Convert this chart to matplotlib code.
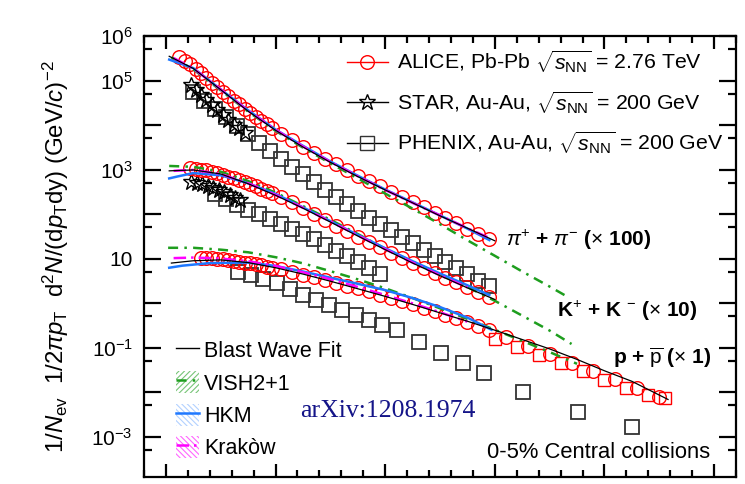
import matplotlib
matplotlib.use("Agg")
import matplotlib.pyplot as plt
from matplotlib.patches import Patch
from matplotlib.lines import Line2D
from matplotlib.ticker import FixedLocator, NullFormatter

plt.rcParams['font.family'] = ['Liberation Sans', 'DejaVu Sans']
plt.rcParams['mathtext.fontset'] = 'custom'
plt.rcParams['mathtext.rm'] = 'Liberation Sans'
plt.rcParams['mathtext.it'] = 'Liberation Sans:italic'
plt.rcParams['mathtext.bf'] = 'Liberation Sans:bold'
plt.rcParams['hatch.linewidth'] = 0.8

# ---------------- data ----------------
# ALICE Pb-Pb 2.76 TeV, 0-5%
pi_alice_pt = [0.12, 0.17, 0.22, 0.27, 0.32, 0.37, 0.42, 0.47, 0.52, 0.57, 0.62, 0.67, 0.72, 0.77,
               0.82, 0.87, 0.92, 0.97, 1.05, 1.15, 1.25, 1.35, 1.45, 1.55, 1.65, 1.75, 1.85, 1.95,
               2.05, 2.15, 2.25, 2.35, 2.45, 2.55, 2.65, 2.75, 2.85, 2.95]
pi_alice_y = [3.4e5, 2.8e5, 2.3e5, 1.8e5, 1.45e5, 1.15e5, 8.9e4, 7.1e4, 5.6e4, 4.5e4, 3.5e4, 2.9e4,
              2.3e4, 1.9e4, 1.55e4, 1.26e4, 1.05e4, 8.7e3, 6.3e3, 4.5e3, 3.2e3, 2.3e3, 1.7e3, 1.3e3,
              950, 720, 550, 420, 320, 245, 186, 141, 107, 81, 62, 47, 36, 28]
k_alice_pt = [0.22, 0.27, 0.32, 0.37, 0.42, 0.47, 0.52, 0.57, 0.62, 0.67, 0.72, 0.77, 0.82, 0.87,
              0.92, 0.97, 1.05, 1.15, 1.25, 1.35, 1.45, 1.55, 1.65, 1.75, 1.85, 1.95, 2.05, 2.15,
              2.25, 2.35, 2.45, 2.55, 2.65, 2.75, 2.85, 2.95]
k_alice_y = [1070, 1047, 1000, 955, 891, 832, 759, 692, 631, 575, 525, 468, 417, 372, 331, 295,
             240, 182, 135, 100, 74, 55, 41, 31, 23.4, 17.8, 13.5, 10.2, 7.9, 6.2, 4.8, 3.7, 2.9,
             2.24, 1.74, 1.38]
p_alice_pt = [0.32, 0.37, 0.42, 0.47, 0.52, 0.57, 0.62, 0.67, 0.72, 0.77, 0.82, 0.87, 0.92, 0.97,
              1.05, 1.15, 1.25, 1.35, 1.45, 1.55, 1.65, 1.75, 1.85, 1.95, 2.05, 2.15, 2.25, 2.35,
              2.45, 2.55, 2.65, 2.75, 2.85, 2.95, 3.1, 3.3, 3.5, 3.7, 3.9, 4.1, 4.3, 4.5]
p_alice_y = [10.2, 10.2, 10.2, 10.0, 9.8, 9.3, 8.9, 8.5, 8.1, 7.8, 7.4, 7.1, 6.6, 6.2,
             5.75, 5.0, 4.37, 3.8, 3.31, 2.88, 2.45, 2.14, 1.82, 1.55, 1.32, 1.12, 0.95, 0.79,
             0.66, 0.55, 0.46, 0.38, 0.31, 0.25, 0.174, 0.107, 0.071, 0.046, 0.030, 0.020,
             0.0126, 0.0079]
p_alice_hi_pt = [3.0, 3.2, 3.4, 3.6, 3.8, 4.0, 4.2, 4.4, 4.55]
p_alice_hi_y = [0.158, 0.105, 0.069, 0.044, 0.030, 0.019, 0.0126, 0.0085, 0.0072]

# STAR Au-Au 200 GeV
pi_star_pt = [0.23, 0.27, 0.32, 0.37, 0.42, 0.47, 0.52, 0.57, 0.62, 0.67, 0.72]
pi_star_y = [7.9e4, 6.2e4, 4.7e4, 3.6e4, 2.8e4, 2.2e4, 1.66e4, 1.29e4, 1.0e4, 8.5e3, 6.6e3]
k_star_pt = [0.23, 0.28, 0.33, 0.38, 0.43, 0.48, 0.53, 0.58, 0.63, 0.68]
k_star_y = [537, 501, 468, 427, 389, 347, 309, 269, 234, 204]

# PHENIX Au-Au 200 GeV
pi_phenix_pt = [0.25, 0.35, 0.45, 0.55, 0.65, 0.75, 0.85, 0.95, 1.05, 1.15, 1.25, 1.35, 1.45, 1.55,
                1.65, 1.75, 1.85, 1.95, 2.05, 2.15, 2.25, 2.35, 2.45, 2.55, 2.65, 2.75, 2.85, 2.95]
pi_phenix_y = [5.5e4, 3.55e4, 2.29e4, 1.48e4, 9.5e3, 6.2e3, 4.0e3, 2.63e3, 1.74e3, 1.15e3, 776,
               525, 355, 245, 170, 117, 83, 59, 42.7, 30.9, 22.4, 15.8, 11.5, 8.3, 6.0, 4.5, 3.2, 2.4]
k_phenix_pt = [0.45, 0.55, 0.65, 0.75, 0.85, 0.95, 1.05, 1.15, 1.25, 1.35, 1.45, 1.55, 1.65, 1.75,
               1.85, 1.95]
k_phenix_y = [288, 214, 158, 123, 98, 76, 59, 46, 35.5, 26.9, 20.0, 15.1, 11.2, 8.3, 6.0, 4.4]
p_phenix_pt = [0.66, 0.78, 0.89, 1.01, 1.13, 1.25, 1.37, 1.49, 1.61, 1.73, 1.85, 1.97, 2.11,
               2.31, 2.51, 2.71, 2.90, 3.26, 3.76, 4.25]
p_phenix_y = [5.0, 4.27, 3.55, 2.75, 2.04, 1.55, 1.17, 0.91, 0.69, 0.54, 0.42, 0.32, 0.25,
              0.132, 0.076, 0.045, 0.027, 0.010, 0.0035, 0.0016]

# Blast-wave fit
bw_pi_pt = [0.03, 0.25, 0.5, 0.75, 1.0, 1.25, 1.5, 1.75, 2.0, 2.25, 2.5, 2.75, 3.0]
bw_pi_y = [3.5e5, 1.86e5, 6.2e4, 2.04e4, 7.6e3, 3.2e3, 1.45e3, 692, 347, 178, 91, 48, 25]
bw_k_pt = [0.03, 0.25, 0.5, 0.75, 1.0, 1.25, 1.5, 1.75, 2.0, 2.25, 2.5, 2.75, 3.0]
bw_k_y = [933, 977, 794, 479, 263, 135, 66, 32, 15.8, 7.9, 4.1, 2.19, 1.20]
bw_p_pt = [0.05, 0.25, 0.5, 0.75, 1.0, 1.25, 1.5, 1.75, 2.0, 2.25, 2.5, 2.75, 3.0, 3.25, 3.5,
           3.75, 4.0, 4.25, 4.58]
bw_p_y = [7.9, 8.9, 9.3, 8.1, 6.2, 4.47, 3.09, 2.09, 1.41, 0.93, 0.60, 0.39, 0.245, 0.151,
          0.093, 0.054, 0.030, 0.0174, 0.0068]

# VISH2+1
vish_pi_pt = [0.05, 0.25, 0.5, 0.75, 1.0, 1.25, 1.5, 1.75, 2.0, 2.25, 2.5, 2.75, 3.0, 3.25, 3.5, 3.67]
vish_pi_y = [3.3e5, 1.78e5, 6.0e4, 2.0e4, 7.4e3, 3.1e3, 1.38e3, 631, 288, 132, 59, 25.7, 11.5,
             5.1, 2.34, 1.35]
vish_k_pt = [0.03, 0.25, 0.5, 0.75, 1.0, 1.25, 1.5, 1.75, 2.0, 2.25, 2.5, 2.75, 3.0, 3.25, 3.5, 3.7]
vish_k_y = [1202, 1148, 891, 550, 302, 151, 74, 35.5, 16.6, 8.5, 4.4, 2.29, 1.12, 0.52, 0.24, 0.12]
vish_p_pt = [0.02, 0.25, 0.5, 0.75, 1.0, 1.25, 1.5, 1.75, 2.0, 2.25, 2.5, 2.75, 3.0, 3.25, 3.5, 3.75]
vish_p_y = [17.4, 17.4, 15.8, 13.8, 10.7, 7.8, 5.2, 3.4, 2.14, 1.29, 0.76, 0.44, 0.25, 0.141,
            0.079, 0.043]

# HKM
hkm_pi_pt = [0.03, 0.25, 0.5, 0.75, 1.0, 1.25, 1.5, 1.75, 2.0, 2.25, 2.5, 2.75, 2.95]
hkm_pi_y = [2.95e5, 1.9e5, 6.3e4, 2.14e4, 7.9e3, 3.4e3, 1.51e3, 724, 355, 182, 93, 47, 26]
hkm_k_pt = [0.03, 0.1, 0.25, 0.5, 0.75, 1.0, 1.25, 1.5, 1.75, 2.0, 2.25, 2.5, 2.75, 2.95]
hkm_k_y = [631, 692, 832, 741, 490, 282, 141, 69, 34, 17, 8.7, 4.6, 2.5, 1.51]
hkm_p_pt = [0.03, 0.15, 0.4, 0.75, 1.0, 1.25, 1.5, 1.75, 2.0, 2.25, 2.5, 2.75, 2.97]
hkm_p_y = [6.2, 6.9, 7.9, 8.1, 6.8, 5.1, 3.7, 2.7, 1.95, 1.29, 0.81, 0.47, 0.25]

# Krakow
krk_pi_pt = [0.07, 0.25, 0.5, 0.75, 1.0, 1.25, 1.5, 1.75, 2.0, 2.25, 2.5, 2.75, 2.95]
krk_pi_y = [3.2e5, 1.86e5, 6.3e4, 2.09e4, 7.8e3, 3.3e3, 1.48e3, 708, 347, 178, 93, 48, 29]
krk_k_pt = [0.07, 0.25, 0.5, 0.75, 1.0, 1.25, 1.5, 1.75, 2.0, 2.25, 2.5, 2.75]
krk_k_y = [933, 977, 794, 490, 269, 138, 68, 33, 16.2, 8.1, 4.2, 2.24]
krk_p_pt = [0.07, 0.25, 0.5, 0.75, 1.0, 1.25, 1.5, 1.75, 2.0, 2.25, 2.5, 2.75]
krk_p_y = [10.2, 10.5, 10.0, 8.7, 6.8, 4.9, 3.4, 2.29, 1.51, 0.98, 0.62, 0.38]

ytick_vals = [1e6, 1e5, 1e3, 1e1, 1e-1, 1e-3]
ytick_labels = [r'$10^{6}$', r'$10^{5}$', r'$10^{3}$', '10', r'$10^{-1}$', r'$10^{-3}$']

# ---------------- figure ----------------
W, H = 745, 484
fig = plt.figure(figsize=(W / 100, H / 100), dpi=100)
ax = fig.add_axes([144 / W, 1 - 477 / H, (736 - 144) / W, (477 - 36) / H])
ax.set_yscale('log')
ax.set_xlim(-0.2, 5.2)
ax.set_ylim(10 ** -3.91, 1e6)

RED = '#ff0000'
GREEN = '#1e9e1e'
BLUE = '#1e78ff'
MAG = '#ff00ff'

ms = 9.8
# PHENIX squares
for xs, ys in [(pi_phenix_pt, pi_phenix_y), (k_phenix_pt, k_phenix_y), (p_phenix_pt, p_phenix_y)]:
    ax.plot(xs, ys, ls='none', marker='s', ms=ms, mfc='none', mec='#333333', mew=1.3, zorder=3)
# STAR stars
for xs, ys in [(pi_star_pt, pi_star_y), (k_star_pt, k_star_y)]:
    ax.plot(xs, ys, ls='none', marker='*', ms=12, mfc='none', mec='black', mew=1.0, zorder=4)
# ALICE
for xs, ys in [(pi_alice_pt, pi_alice_y), (k_alice_pt, k_alice_y), (p_alice_pt, p_alice_y)]:
    ax.plot(xs, ys, ls='none', marker='o', ms=ms, mfc='none', mec=RED, mew=1.0, zorder=5)
ax.plot(p_alice_hi_pt, p_alice_hi_y, ls='none', marker='s', ms=8, mfc='none', mec=RED, mew=1.0,
        zorder=5)

vish_ls = (0, (4, 2.5, 1, 2.5))
krk_ls = (0, (5, 2, 1, 2))
for xs, ys in [(vish_pi_pt, vish_pi_y), (vish_k_pt, vish_k_y), (vish_p_pt, vish_p_y)]:
    ax.plot(xs, ys, color=GREEN, lw=1.8, ls=vish_ls, zorder=6)
for xs, ys in [(hkm_pi_pt, hkm_pi_y), (hkm_k_pt, hkm_k_y), (hkm_p_pt, hkm_p_y)]:
    ax.plot(xs, ys, color=BLUE, lw=1.8, zorder=6)
for xs, ys in [(krk_pi_pt, krk_pi_y), (krk_k_pt, krk_k_y), (krk_p_pt, krk_p_y)]:
    ax.plot(xs, ys, color=MAG, lw=1.8, ls=krk_ls, zorder=6)
for xs, ys in [(bw_pi_pt, bw_pi_y), (bw_k_pt, bw_k_y), (bw_p_pt, bw_p_y)]:
    ax.plot(xs, ys, color='black', lw=0.9, zorder=7)

# ---------------- axes styling ----------------
for s in ax.spines.values():
    s.set_linewidth(1.6)
ax.xaxis.set_major_locator(FixedLocator([0, 1, 2, 3, 4, 5]))
ax.xaxis.set_minor_locator(FixedLocator([v / 5 for v in range(-1, 27)]))
ax.xaxis.set_major_formatter(NullFormatter())
ax.yaxis.set_major_locator(FixedLocator([10.0 ** e for e in range(-3, 7)]))
ax.yaxis.set_minor_locator(FixedLocator([5 * 10.0 ** e for e in range(-4, 6)]))
ax.yaxis.set_minor_formatter(NullFormatter())
ax.tick_params(which='both', direction='in', top=True, right=True, width=1.6)
ax.tick_params(axis='y', which='major', length=12.5)
ax.tick_params(axis='y', which='minor', length=6)
ax.tick_params(axis='x', which='major', length=9.5)
ax.tick_params(axis='x', which='minor', length=5)
ax.set_yticks([10.0 ** e for e in range(-3, 7)])
labmap = dict(zip(ytick_vals, ytick_labels))
ax.set_yticklabels([labmap.get(v, '') for v in [10.0 ** e for e in range(-3, 7)]], fontsize=15)
ax.tick_params(axis='y', which='major', pad=8)

ax.set_ylabel(r'$1/N_{\rm ev}$  $1/2\pi p_{\rm T}$  d$^{2}N$/(d$p_{\rm T}$dy) (GeV/$c$)$^{-2}$',
              fontsize=17.3, labelpad=15)

# ---------------- legends ----------------
h_alice = Line2D([], [], color=RED, lw=1.0, marker='o', ms=ms, mfc='none', mec=RED)
h_star = Line2D([], [], color='black', lw=1.0, marker='*', ms=12, mfc='none', mec='black', mew=1.0)
h_phx = Line2D([], [], color='black', lw=1.0, marker='s', ms=ms, mfc='none', mec='#333333')
leg1 = ax.legend([h_alice, h_star, h_phx],
                 [r'ALICE, Pb-Pb $\sqrt{s_{\rm NN}}$ = 2.76 TeV',
                  r'STAR, Au-Au, $\sqrt{s_{\rm NN}}$ = 200 GeV',
                  r'PHENIX, Au-Au, $\sqrt{s_{\rm NN}}$ = 200 GeV'],
                 loc='upper left', bbox_to_anchor=((347 - 144) / 592, 1 - 12 / 441),
                 frameon=False, fontsize=15.3, handlelength=1.92, handletextpad=0.45,
                 labelspacing=0.64, borderpad=0, borderaxespad=0)
ax.add_artist(leg1)

h_bw = Line2D([], [], color='black', lw=1.0)
h_vish = (Patch(facecolor='none', edgecolor=GREEN, hatch='//////', lw=0, alpha=0.6),
          Line2D([], [], color=GREEN, lw=1.8, ls=vish_ls))
h_hkm = (Patch(facecolor='none', edgecolor='#7fb2ff', hatch='\\\\\\\\\\\\', lw=0, alpha=0.6),
         Line2D([], [], color=BLUE, lw=1.8))
h_krk = (Patch(facecolor='none', edgecolor=MAG, hatch='\\\\\\\\\\\\', lw=0, alpha=0.6),
         Line2D([], [], color=MAG, lw=1.8, ls=krk_ls))
leg2 = ax.legend([h_bw, h_vish, h_hkm, h_krk], ['Blast Wave Fit', 'VISH2+1', 'HKM', 'Krakòw'],
                 loc='upper left', bbox_to_anchor=((176 - 144) / 592, 1 - (339 - 36) / 441),
                 frameon=False, fontsize=15.5, handlelength=1.05, handleheight=1.2,
                 handletextpad=0.25, labelspacing=0.42, borderpad=0, borderaxespad=0)

# ---------------- annotations ----------------
ax.text((506 - 144) / 592, (1 - (240 - 36) / 441), r'$\pi^{+}$ + $\pi^{-}$ ($\times$ 100)',
        transform=ax.transAxes, fontsize=15, fontweight='bold', va='center', ha='left')
ax.text((557 - 144) / 592, (1 - (311 - 36) / 441), r'K$^{+}$ + K $^{-}$ ($\times$ 10)',
        transform=ax.transAxes, fontsize=15, fontweight='bold', va='center', ha='left')
ax.text((613 - 144) / 592, (1 - (358 - 36) / 441), r'p + $\overline{\rm p}$ ($\times$ 1)',
        transform=ax.transAxes, fontsize=15, fontweight='bold', va='center', ha='left')
ax.text((300 - 144) / 592, 1 - (411 - 36) / 441, 'arXiv:1208.1974', transform=ax.transAxes,
        fontsize=18.5, family=['Liberation Serif', 'DejaVu Serif'], color='#141488',
        va='center', ha='left')
ax.text((487 - 144) / 592, 1 - (452 - 36) / 441, '0-5% Central collisions', transform=ax.transAxes,
        fontsize=15.8, va='center', ha='left')

fig.savefig('out.png', dpi=100)
